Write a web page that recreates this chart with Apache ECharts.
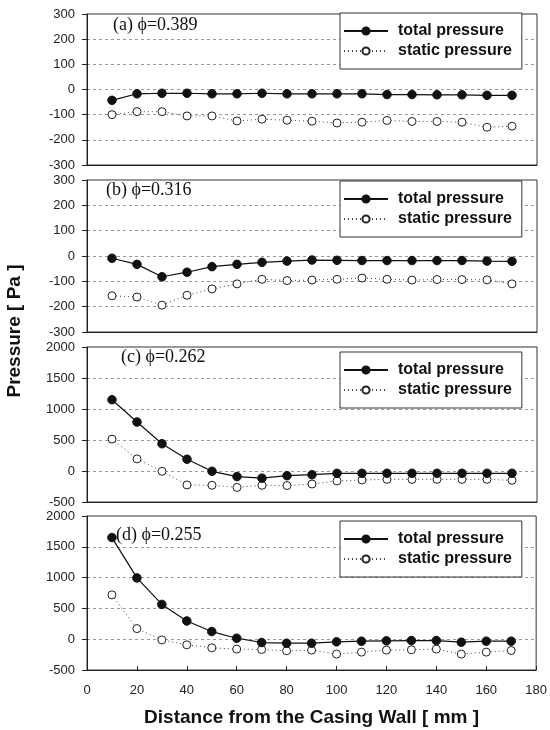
<!DOCTYPE html>
<html>
<head>
<meta charset="utf-8">
<script src="https://cdn.jsdelivr.net/npm/echarts@6/dist/echarts.min.js"></script>
<style>html,body{margin:0;padding:0;background:#fff;}#c{width:550px;height:730px;}</style>
</head>
<body>
<div id="c"></div>
<script>
// Distance from the casing wall [mm]
var distances = [10,20,30,40,50,60,70,80,90,100,110,120,130,140,150,160,170];
var xTicks = [0,20,40,60,80,100,120,140,160,180];

var panelTitles = ['(a) \u03d5=0.389','(b) \u03d5=0.316','(c) \u03d5=0.262','(d) \u03d5=0.255'];
var seriesNames = ['total pressure','static pressure'];

// (a) phi = 0.389
var totalA  = [-43,-17,-15,-15,-17,-17,-15,-17,-17,-17,-17,-20,-20,-21,-21,-23,-23];
var staticA = [-100,-88,-88,-105,-105,-125,-118,-122,-126,-133,-130,-123,-127,-127,-130,-150,-146];
// (b) phi = 0.316
var totalB  = [-9,-33,-82,-64,-42,-33,-25,-20,-16,-17,-18,-18,-18,-18,-18,-20,-21];
var staticB = [-157,-162,-194,-155,-130,-110,-92,-97,-95,-92,-87,-92,-95,-93,-93,-94,-110];
// (c) phi = 0.262
var totalC  = [1150,790,440,190,-5,-90,-115,-75,-60,-38,-38,-37,-37,-37,-37,-37,-37];
var staticC = [515,195,-5,-225,-230,-265,-230,-235,-210,-160,-145,-135,-135,-135,-135,-135,-150];
// (d) phi = 0.255
var totalD  = [1650,995,565,296,124,16,-54,-65,-65,-43,-32,-27,-22,-22,-48,-32,-32];
var staticD = [720,172,-11,-91,-140,-161,-167,-188,-177,-242,-210,-177,-172,-161,-242,-210,-183];

var yRanges = [[-300,300,100],[-300,300,100],[-500,2000,500],[-500,2000,500]];

var totals = [totalA,totalB,totalC,totalD];
var statics = [staticA,staticB,staticC,staticD];

var gridTops = [14,180,347,516];
var gridHeights = [151,152,155,154];
var titlePos = [[113,16],[106,181],[121,348],[116,526]];
var legendTops = [13,181,352,521];

function pairs(vals){ return distances.map(function(d,i){ return [d, vals[i]]; }); }

var grids=[], xAxes=[], yAxes=[], series=[], titles=[], legends=[];
for (var i=0;i<4;i++){
  grids.push({left:87, right:13, top:gridTops[i], height:gridHeights[i], show:true, borderColor:'#333', borderWidth:1, backgroundColor:'transparent'});
  var last = (i===3);
  xAxes.push({
    type:'value', gridIndex:i, min:xTicks[0], max:xTicks[xTicks.length-1], interval:20,
    axisLine:{show:true, onZero:false, lineStyle:{color:'#222', width:1}},
    axisTick:{show:last, inside:true, length:4, lineStyle:{color:'#222'}},
    axisLabel:{show:last, color:'#222', fontSize:13, fontFamily:'Liberation Sans, Arial', margin:14},
    splitLine:{show:false},
    name: last ? 'Distance from the Casing Wall [ mm ]' : '',
    nameLocation:'middle', nameGap:38,
    nameTextStyle:{fontSize:19, fontWeight:'bold', color:'#111', fontFamily:'Liberation Sans, Arial'}
  });
  yAxes.push({
    type:'value', gridIndex:i, min:yRanges[i][0], max:yRanges[i][1], interval:yRanges[i][2],
    axisLine:{show:true, onZero:false, lineStyle:{color:'#222', width:1}},
    axisTick:{show:true, inside:false, length:5, lineStyle:{color:'#222'}},
    axisLabel:{color:'#222', fontSize:13, fontFamily:'Liberation Sans, Arial', margin:12,
      showMinLabel:true, showMaxLabel:true, formatter:function(v){ return String(v); }},
    splitLine:{show:true, lineStyle:{color:'#999', width:1, type:[3,3]}}
  });
  series.push({
    name:seriesNames[0], type:'line', xAxisIndex:i, yAxisIndex:i, data:pairs(totals[i]),
    symbol:'circle', symbolSize:8.5, z:4,
    lineStyle:{color:'#111', width:1.2, type:'solid'},
    itemStyle:{color:'#111', borderColor:'#111', borderWidth:1}
  });
  series.push({
    name:seriesNames[1], type:'line', xAxisIndex:i, yAxisIndex:i, data:pairs(statics[i]),
    symbol:'circle', symbolSize:8, z:3,
    lineStyle:{color:'#444', width:1, type:[1,3]},
    itemStyle:{color:'#fff', borderColor:'#222', borderWidth:1}
  });
  titles.push({
    text:panelTitles[i], left:titlePos[i][0], top:titlePos[i][1], padding:0,
    textStyle:{fontFamily:'Liberation Serif, Times New Roman, serif', fontSize:18, fontWeight:'normal', color:'#111'}
  });
  legends.push({
    data:seriesNames, orient:'vertical', left:340, top:legendTops[i],
    width:190, selectedMode:false,
    backgroundColor:'#fff', borderColor:'#333', borderWidth:1,
    padding:[8,10,8,3], itemGap:0, itemWidth:44, itemHeight:9,
    textStyle:{fontSize:16, fontWeight:'bold', color:'#111', fontFamily:'Liberation Sans, Arial', lineHeight:20, padding:[0,0,0,5]}
  });
}

var chart = echarts.init(document.getElementById('c'), null, {renderer:'canvas'});
chart.setOption({
  animation:false,
  backgroundColor:'#fff',
  title:titles,
  legend:legends,
  grid:grids,
  xAxis:xAxes,
  yAxis:yAxes,
  series:series,
  graphic:[{
    type:'text', x:15, y:331, rotation:Math.PI/2,
    style:{text:'Pressure [ Pa ]', x:0, y:0, align:'center', verticalAlign:'middle',
      font:'bold 19px "Liberation Sans", Arial', fill:'#111'}
  }]
});
</script>
</body>
</html>
